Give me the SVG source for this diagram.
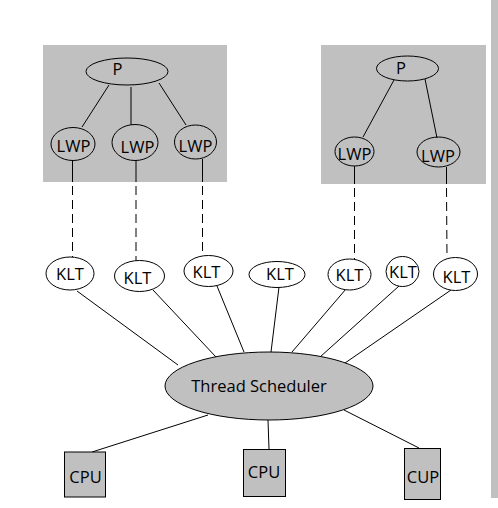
<svg xmlns="http://www.w3.org/2000/svg" width="498" height="508" viewBox="0 0 498 508">
<style>
.bg{fill:#ffffff}
.box{fill:#c0c0c0}
.n{fill:none;stroke:#000;stroke-width:1}
.g{fill:#c0c0c0;stroke:#000;stroke-width:1}
.w{fill:#fff;stroke:#000;stroke-width:1}
.t{font-family:"Open Sans","Noto Sans","DejaVu Sans",sans-serif;font-size:16.5px;fill:#000;text-anchor:middle}
.c{stroke:#000;stroke-width:1;fill:none}
.d{stroke:#000;stroke-width:1;fill:none;stroke-dasharray:9 5}
</style>
<rect class="bg" x="0" y="0" width="498" height="508"/>
<rect class="box" x="491" y="0" width="7" height="498"/>
<g id="process1">
<rect class="box" x="43" y="45" width="184" height="137"/>
</g>
<g id="process2">
<rect class="box" x="321" y="45" width="165" height="139"/>
</g>
<g id="connectors">
<line class="c" x1="109" y1="85" x2="82" y2="127"/>
<line class="c" x1="131" y1="87" x2="131" y2="125"/>
<line class="c" x1="159" y1="83" x2="186" y2="125"/>
<line class="c" x1="394" y1="80" x2="363" y2="137"/>
<line class="c" x1="425" y1="79" x2="437" y2="138"/>
<line class="c" x1="72.5" y1="160" x2="72.5" y2="182"/>
<line class="d" x1="72.5" y1="186" x2="72.5" y2="257"/>
<line class="c" x1="136" y1="160" x2="136" y2="182"/>
<line class="d" x1="136" y1="186" x2="136" y2="261"/>
<line class="c" x1="202.5" y1="159" x2="202.5" y2="182"/>
<line class="d" x1="202.5" y1="186" x2="202.5" y2="256"/>
<line class="c" x1="354.5" y1="166" x2="354.5" y2="184"/>
<line class="d" x1="354.5" y1="188" x2="354.5" y2="259"/>
<line class="c" x1="446.5" y1="167" x2="446.5" y2="184"/>
<line class="d" x1="446.5" y1="188" x2="447" y2="258"/>
<line class="c" x1="77" y1="291" x2="178" y2="365"/>
<line class="c" x1="153" y1="290" x2="216" y2="357"/>
<line class="c" x1="217" y1="286" x2="244" y2="352"/>
<line class="c" x1="279" y1="287" x2="271" y2="352"/>
<line class="c" x1="346" y1="289" x2="292" y2="352"/>
<line class="c" x1="399" y1="286" x2="320" y2="357"/>
<line class="c" x1="451" y1="290" x2="345" y2="363"/>
<line class="c" x1="208" y1="415" x2="92" y2="452"/>
<line class="c" x1="268" y1="420" x2="269" y2="449"/>
<line class="c" x1="344" y1="410" x2="419" y2="448"/>
</g>
<g id="P1"><ellipse class="n" cx="127" cy="71.5" rx="41" ry="13.5"/><text class="t" x="117.5" y="75">P</text></g>
<g id="P2"><ellipse class="n" cx="407.5" cy="68.5" rx="31" ry="12.5"/><text class="t" x="401" y="74">P</text></g>
<g id="LWP1"><ellipse class="n" cx="73" cy="144" rx="22" ry="16.5"/><text class="t" x="73.5" y="151.5">LWP</text></g>
<g id="LWP2"><ellipse class="n" cx="135" cy="142.5" rx="23" ry="18"/><text class="t" x="137.5" y="153">LWP</text></g>
<g id="LWP3"><ellipse class="n" cx="195.5" cy="142" rx="21" ry="17"/><text class="t" x="195.5" y="151.5">LWP</text></g>
<g id="LWP4"><ellipse class="n" cx="354.5" cy="151.5" rx="19.5" ry="14.5"/><text class="t" x="354.5" y="160">LWP</text></g>
<g id="LWP5"><ellipse class="n" cx="438.5" cy="152" rx="21.5" ry="15"/><text class="t" x="438" y="161.5">LWP</text></g>
<g id="KLT1"><ellipse class="w" cx="70" cy="273.5" rx="24" ry="16.5"/><text class="t" x="70" y="279.5">KLT</text></g>
<g id="KLT2"><ellipse class="w" cx="139.5" cy="276" rx="25" ry="15.5"/><text class="t" x="137.5" y="284">KLT</text></g>
<g id="KLT3"><ellipse class="w" cx="208.5" cy="271" rx="24.5" ry="15.5"/><text class="t" x="206.5" y="277.5">KLT</text></g>
<g id="KLT4"><ellipse class="w" cx="277" cy="274.5" rx="28" ry="13"/><text class="t" x="280" y="280">KLT</text></g>
<g id="KLT5"><ellipse class="w" cx="349.5" cy="274.5" rx="21.5" ry="15.5"/><text class="t" x="349.5" y="280.5">KLT</text></g>
<g id="KLT6"><ellipse class="w" cx="402.5" cy="271.5" rx="16.5" ry="15"/><text class="t" x="403" y="277.5">KLT</text></g>
<g id="KLT7"><ellipse class="w" cx="455.5" cy="274" rx="22" ry="16.5"/><text class="t" x="456.5" y="282.5">KLT</text></g>
<g id="scheduler"><ellipse class="g" cx="269" cy="386" rx="104" ry="34"/><text class="t" x="259" y="391.5">Thread Scheduler</text></g>
<g id="CPU1"><rect class="g" x="64.5" y="452" width="41" height="45"/><text class="t" x="85.5" y="483">CPU</text></g>
<g id="CPU2"><rect class="g" x="243.5" y="449.5" width="42" height="47"/><text class="t" x="264" y="478">CPU</text></g>
<g id="CUP"><rect class="g" x="404.5" y="448.5" width="36" height="51"/><text class="t" x="423" y="482.5">CUP</text></g>
</svg>
